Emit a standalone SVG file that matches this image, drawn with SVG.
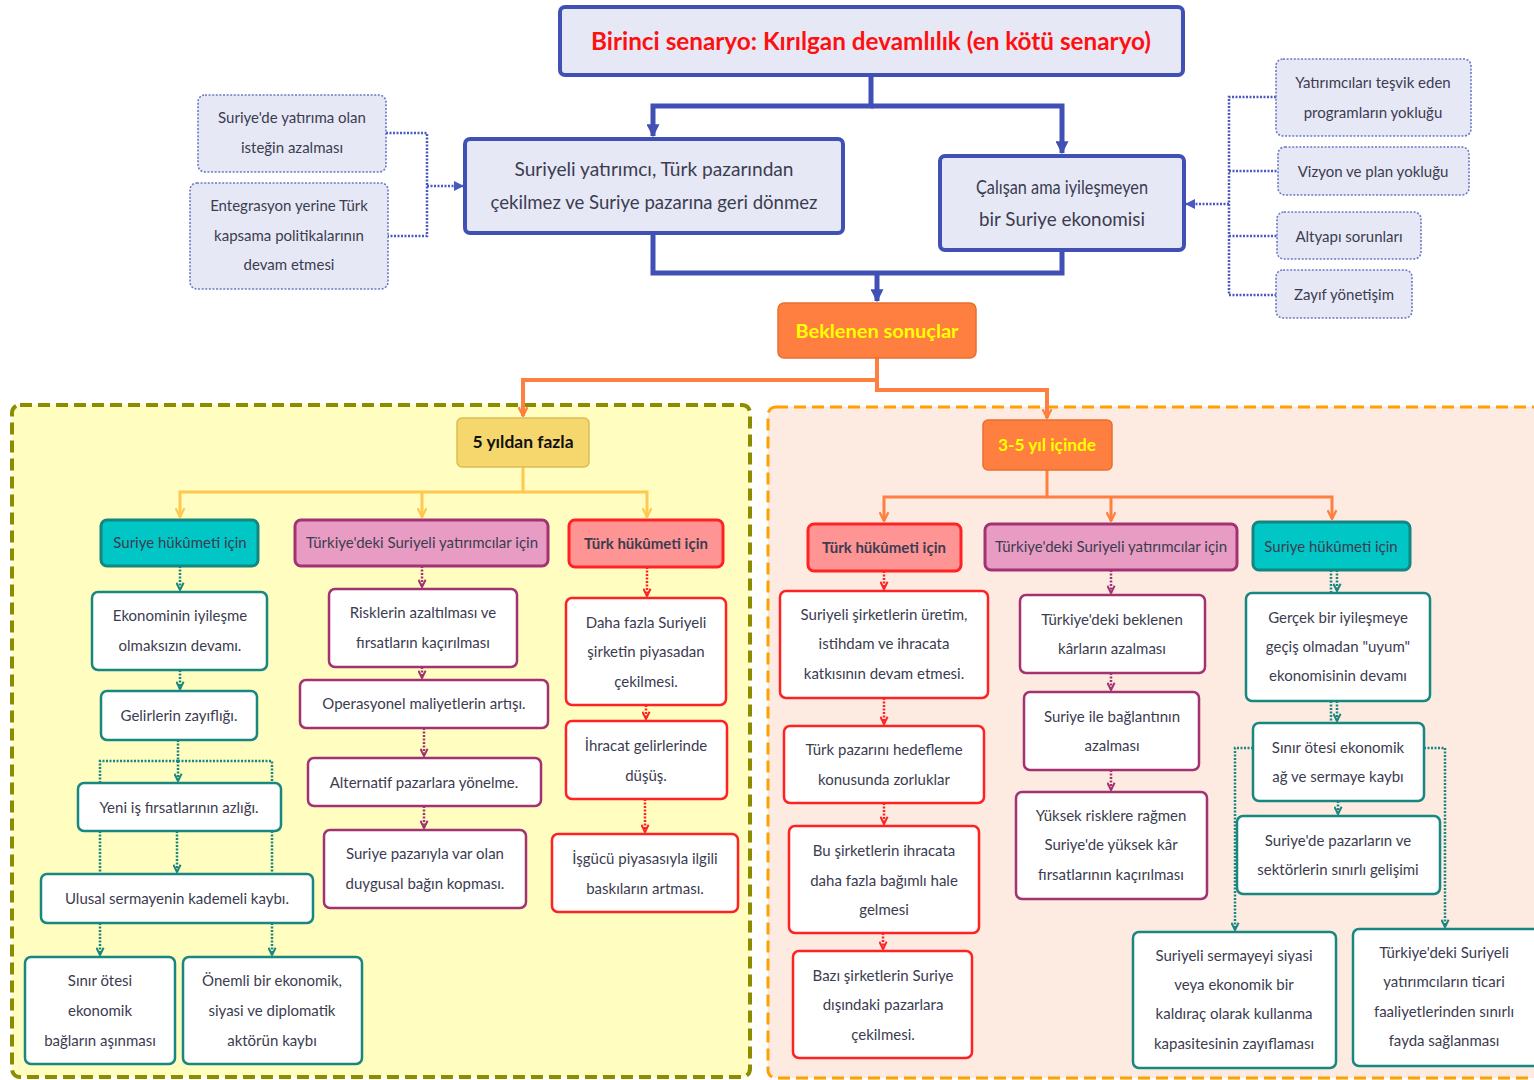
<svg xmlns="http://www.w3.org/2000/svg" width="1534" height="1080" viewBox="0 0 1534 1080">
<style>
text{font-family:Lato,"Open Sans","DejaVu Sans",sans-serif;fill:#3c3c50;font-size:15px;text-anchor:middle;dominant-baseline:central}
.blue{fill:#e6e8f6;stroke:#4150b5;stroke-width:4}
.sm{fill:#e6e8f6;stroke:#6c78c8;stroke-width:1.6;stroke-dasharray:2 1.6}
.or{fill:#ff7f40;stroke:#e8702e;stroke-width:1.5}
.teal{fill:#fff;stroke:#17877f;stroke-width:2.5}
.mag{fill:#fff;stroke:#a23272;stroke-width:2.5}
.red{fill:#fff;stroke:#ff2222;stroke-width:2.5}
.hteal{fill:#00c6c6;stroke:#138680;stroke-width:3}
.hmag{fill:#e89cc3;stroke:#a23272;stroke-width:3}
.hred{fill:#ff9494;stroke:#ff2222;stroke-width:3}
.cb{fill:none;stroke:#4150b5;stroke-width:5}
.cbd{fill:none;stroke:#4a58c0;stroke-width:2.5;stroke-dasharray:2 1.5}
.co{fill:none;stroke:#ff7f40;stroke-width:4}
.cy{fill:none;stroke:#ffc850;stroke-width:3}
.ct{fill:none;stroke:#17877f;stroke-width:2.5;stroke-dasharray:2 1.5}
.cm{fill:none;stroke:#a23272;stroke-width:2.5;stroke-dasharray:2 1.5}
.cr{fill:none;stroke:#ff2222;stroke-width:2.5;stroke-dasharray:2 1.5}
.big{font-size:20px}
.b{font-weight:bold}
</style>
<defs>
<marker id="ab" viewBox="0 0 10 10" refX="9" refY="5" markerWidth="13" markerHeight="13" markerUnits="userSpaceOnUse" orient="auto"><path d="M0,0 L10,5 L0,10 z" fill="#4150b5"/></marker>
<marker id="abd" viewBox="0 0 10 10" refX="9" refY="5" markerWidth="10" markerHeight="10" markerUnits="userSpaceOnUse" orient="auto"><path d="M0,0 L10,5 L0,10 z" fill="#4a58c0"/></marker>
<marker id="ao" viewBox="0 0 10 10" refX="9" refY="5" markerWidth="11" markerHeight="11" markerUnits="userSpaceOnUse" orient="auto"><path d="M1,1 L9,5 L1,9" fill="none" stroke="#ff7f40" stroke-width="2"/></marker>
<marker id="ay" viewBox="0 0 10 10" refX="9" refY="5" markerWidth="11" markerHeight="11" markerUnits="userSpaceOnUse" orient="auto"><path d="M1,1 L9,5 L1,9" fill="none" stroke="#ffc850" stroke-width="2"/></marker>
<marker id="at" viewBox="0 0 10 10" refX="9" refY="5" markerWidth="9" markerHeight="9" markerUnits="userSpaceOnUse" orient="auto"><path d="M1,1 L9,5 L1,9" fill="none" stroke="#17877f" stroke-width="2.2"/></marker>
<marker id="am" viewBox="0 0 10 10" refX="9" refY="5" markerWidth="9" markerHeight="9" markerUnits="userSpaceOnUse" orient="auto"><path d="M1,1 L9,5 L1,9" fill="none" stroke="#a23272" stroke-width="2.2"/></marker>
<marker id="ar" viewBox="0 0 10 10" refX="9" refY="5" markerWidth="9" markerHeight="9" markerUnits="userSpaceOnUse" orient="auto"><path d="M1,1 L9,5 L1,9" fill="none" stroke="#ff2222" stroke-width="2.2"/></marker>
</defs>

<rect x="0" y="0" width="1534" height="1080" fill="#fff"/>

<g id="panel-5yil"><rect x="12" y="405" width="738" height="672" rx="8" fill="#fffdc0" stroke="#8c8c00" stroke-width="4" stroke-dasharray="12 6"/></g>
<g id="panel-35yil"><rect x="768" y="407" width="790" height="671" rx="8" fill="#fdeae0" stroke="#ffa000" stroke-width="3" stroke-dasharray="12 6"/></g>

<g id="connectors">
<path class="cb" d="M871,75 V106 H653 V136" marker-end="url(#ab)"/>
<path class="cb" d="M871,106 H1062 V153" marker-end="url(#ab)"/>
<path class="cb" d="M653,233 V273 H1062 V250"/>
<path class="cb" d="M877,273 V301" marker-end="url(#ab)"/>
<path class="cbd" d="M386,133 H427 V236 H388"/>
<path class="cbd" d="M427,186 H463" marker-end="url(#abd)"/>
<path class="cbd" d="M1276,97 H1229 V295 H1276 M1229,171 H1278 M1229,236 H1277"/>
<path class="cbd" d="M1229,204 H1186" marker-end="url(#abd)"/>
<path class="co" d="M877,358 V390 H1047 V418" marker-end="url(#ao)"/>
<path class="co" d="M877,380 H523 V416" marker-end="url(#ao)"/>
<path class="cy" d="M523,467 V492 H180 V517" marker-end="url(#ay)"/>
<path class="cy" d="M523,492 H647 V517" marker-end="url(#ay)"/>
<path class="cy" d="M422,492 V517" marker-end="url(#ay)"/>
<path class="co" style="stroke-width:3" d="M1047,470 V497 H884 V521" marker-end="url(#ao)"/>
<path class="co" style="stroke-width:3" d="M1047,497 H1332 V519" marker-end="url(#ao)"/>
<path class="co" style="stroke-width:3" d="M1111,497 V521" marker-end="url(#ao)"/>
<path class="ct" d="M180,566 V590" marker-end="url(#at)"/>
<path class="ct" d="M180,670 V689" marker-end="url(#at)"/>
<path class="ct" d="M178,740 V781" marker-end="url(#at)"/>
<path class="ct" d="M178,761 H100 V783 M178,761 H272 V783"/>
<path class="ct" d="M100,831 V874 M272,831 V874"/>
<path class="ct" d="M177,831 V872" marker-end="url(#at)"/>
<path class="ct" d="M100,923 V955" marker-end="url(#at)"/>
<path class="ct" d="M272,923 V955" marker-end="url(#at)"/>
<path class="cm" d="M422,566 V587" marker-end="url(#am)"/>
<path class="cm" d="M422,667 V678" marker-end="url(#am)"/>
<path class="cm" d="M424,728 V756" marker-end="url(#am)"/>
<path class="cm" d="M424,806 V828" marker-end="url(#am)"/>
<path class="cr" d="M647,567 V596" marker-end="url(#ar)"/>
<path class="cr" d="M646,705 V719" marker-end="url(#ar)"/>
<path class="cr" d="M645,799 V832" marker-end="url(#ar)"/>
<path class="cr" d="M884,571 V589" marker-end="url(#ar)"/>
<path class="cr" d="M884,698 V724" marker-end="url(#ar)"/>
<path class="cr" d="M884,803 V824" marker-end="url(#ar)"/>
<path class="cr" d="M883,933 V949" marker-end="url(#ar)"/>
<path class="cm" d="M1111,570 V593" marker-end="url(#am)"/>
<path class="cm" d="M1111,673 V690" marker-end="url(#am)"/>
<path class="cm" d="M1111,770 V790" marker-end="url(#am)"/>
<path class="ct" d="M1331,570 V593 M1331,701 V723"/>
<path class="ct" d="M1337,570 V591" marker-end="url(#at)"/>
<path class="ct" d="M1337,701 V721" marker-end="url(#at)"/>
<path class="ct" d="M1338,801 V814" marker-end="url(#at)"/>
<path class="ct" d="M1253,748 H1235 V930" marker-end="url(#at)"/>
<path class="ct" d="M1424,748 H1445 V927" marker-end="url(#at)"/>
</g>

<g id="n-title"><rect class="blue" x="560" y="7" width="623" height="68" rx="5"/><text x="871" y="40" class="b" style="fill:#ff1010;font-size:25px" textLength="560" lengthAdjust="spacingAndGlyphs">Birinci senaryo: Kırılgan devamlılık (en kötü senaryo)</text></g>
<g id="n-left"><rect class="blue" x="465" y="139" width="378" height="94" rx="5"/><text x="654" y="168" class="big" textLength="279" lengthAdjust="spacingAndGlyphs">Suriyeli yatırımcı, Türk pazarından</text><text x="654" y="201" class="big" textLength="327" lengthAdjust="spacingAndGlyphs">çekilmez ve Suriye pazarına geri dönmez</text></g>
<g id="n-right"><rect class="blue" x="940" y="156" width="244" height="94" rx="5"/><text x="1062" y="186" class="big" textLength="172" lengthAdjust="spacingAndGlyphs">Çalışan ama iyileşmeyen</text><text x="1062" y="218" class="big" textLength="166" lengthAdjust="spacingAndGlyphs">bir Suriye ekonomisi</text></g>
<g id="n-beklenen"><rect class="or" x="778" y="303" width="198" height="55" rx="6"/><text x="877" y="330" class="b" style="fill:#ffff00;font-size:19px" textLength="163" lengthAdjust="spacingAndGlyphs">Beklenen sonuçlar</text></g>

<g id="n-l1"><rect class="sm" x="198" y="95" width="188" height="77" rx="7"/><text x="292" y="117">Suriye'de yatırıma olan</text><text x="292" y="147">isteğin azalması</text></g>
<g id="n-l2"><rect class="sm" x="190" y="183" width="198" height="106" rx="7"/><text x="289" y="205">Entegrasyon yerine Türk</text><text x="289" y="235">kapsama politikalarının</text><text x="289" y="264">devam etmesi</text></g>
<g id="n-r1"><rect class="sm" x="1276" y="59" width="195" height="77" rx="7"/><text x="1373" y="82">Yatırımcıları teşvik eden</text><text x="1373" y="112">programların yokluğu</text></g>
<g id="n-r2"><rect class="sm" x="1278" y="147" width="191" height="48" rx="7"/><text x="1373" y="171">Vizyon ve plan yokluğu</text></g>
<g id="n-r3"><rect class="sm" x="1277" y="212" width="144" height="47" rx="7"/><text x="1349" y="236">Altyapı sorunları</text></g>
<g id="n-r4"><rect class="sm" x="1276" y="270" width="136" height="48" rx="7"/><text x="1344" y="294">Zayıf yönetişim</text></g>

<g id="n-5yil"><rect x="457" y="418" width="132" height="49" rx="5" fill="#f5d76e" stroke="#d9bd55" stroke-width="1.5"/><text x="523" y="441" class="b" style="fill:#111;font-size:17px" textLength="101" lengthAdjust="spacingAndGlyphs">5 yıldan fazla</text></g>
<g id="n-35yil"><rect class="or" x="983" y="420" width="129" height="50" rx="5"/><text x="1047" y="444" class="b" style="fill:#ffff00;font-size:17px" textLength="98" lengthAdjust="spacingAndGlyphs">3-5 yıl içinde</text></g>

<g id="h-a1"><rect class="hteal" x="101" y="520" width="157" height="46" rx="6"/><text x="180" y="542">Suriye hükûmeti için</text></g>
<g id="h-a2"><rect class="hmag" x="295" y="520" width="253" height="46" rx="6"/><text x="422" y="542">Türkiye'deki Suriyeli yatırımcılar için</text></g>
<g id="h-a3"><rect class="hred" x="569" y="520" width="154" height="47" rx="6"/><text x="646" y="543" class="b">Türk hükûmeti için</text></g>

<g id="a1-1"><rect class="teal" x="92" y="592" width="175" height="78" rx="6"/><text x="180" y="615">Ekonominin iyileşme</text><text x="180" y="645">olmaksızın devamı.</text></g>
<g id="a1-2"><rect class="teal" x="101" y="691" width="156" height="49" rx="6"/><text x="179" y="715">Gelirlerin zayıflığı.</text></g>
<g id="a1-3"><rect class="teal" x="78" y="783" width="203" height="48" rx="6"/><text x="179" y="807">Yeni iş fırsatlarının azlığı.</text></g>
<g id="a1-4"><rect class="teal" x="41" y="874" width="272" height="49" rx="6"/><text x="177" y="898">Ulusal sermayenin kademeli kaybı.</text></g>
<g id="a1-5"><rect class="teal" x="25" y="957" width="150" height="107" rx="6"/><text x="100" y="980">Sınır ötesi</text><text x="100" y="1010">ekonomik</text><text x="100" y="1040">bağların aşınması</text></g>
<g id="a1-6"><rect class="teal" x="183" y="957" width="179" height="107" rx="6"/><text x="272" y="980">Önemli bir ekonomik,</text><text x="272" y="1010">siyasi ve diplomatik</text><text x="272" y="1040">aktörün kaybı</text></g>

<g id="a2-1"><rect class="mag" x="329" y="589" width="188" height="78" rx="6"/><text x="423" y="612">Risklerin azaltılması ve</text><text x="423" y="642">fırsatların kaçırılması</text></g>
<g id="a2-2"><rect class="mag" x="300" y="680" width="248" height="48" rx="6"/><text x="424" y="703">Operasyonel maliyetlerin artışı.</text></g>
<g id="a2-3"><rect class="mag" x="308" y="758" width="233" height="48" rx="6"/><text x="424" y="782">Alternatif pazarlara yönelme.</text></g>
<g id="a2-4"><rect class="mag" x="324" y="830" width="202" height="78" rx="6"/><text x="425" y="853">Suriye pazarıyla var olan</text><text x="425" y="883">duygusal bağın kopması.</text></g>

<g id="a3-1"><rect class="red" x="566" y="598" width="160" height="107" rx="6"/><text x="646" y="622">Daha fazla Suriyeli</text><text x="646" y="651">şirketin piyasadan</text><text x="646" y="681">çekilmesi.</text></g>
<g id="a3-2"><rect class="red" x="566" y="721" width="161" height="78" rx="6"/><text x="646" y="745">İhracat gelirlerinde</text><text x="646" y="775">düşüş.</text></g>
<g id="a3-3"><rect class="red" x="552" y="834" width="186" height="78" rx="6"/><text x="645" y="858">İşgücü piyasasıyla ilgili</text><text x="645" y="888">baskıların artması.</text></g>

<g id="h-b1"><rect class="hred" x="808" y="524" width="153" height="47" rx="6"/><text x="884" y="547" class="b">Türk hükûmeti için</text></g>
<g id="h-b2"><rect class="hmag" x="985" y="524" width="252" height="46" rx="6"/><text x="1111" y="546">Türkiye'deki Suriyeli yatırımcılar için</text></g>
<g id="h-b3"><rect class="hteal" x="1253" y="522" width="157" height="48" rx="6"/><text x="1331" y="546">Suriye hükûmeti için</text></g>

<g id="b1-1"><rect class="red" x="780" y="591" width="208" height="107" rx="6"/><text x="884" y="614">Suriyeli şirketlerin üretim,</text><text x="884" y="643">istihdam ve ihracata</text><text x="884" y="673">katkısının devam etmesi.</text></g>
<g id="b1-2"><rect class="red" x="784" y="726" width="200" height="77" rx="6"/><text x="884" y="749">Türk pazarını hedefleme</text><text x="884" y="779">konusunda zorluklar</text></g>
<g id="b1-3"><rect class="red" x="789" y="826" width="190" height="107" rx="6"/><text x="884" y="850">Bu şirketlerin ihracata</text><text x="884" y="880">daha fazla bağımlı hale</text><text x="884" y="909">gelmesi</text></g>
<g id="b1-4"><rect class="red" x="793" y="951" width="179" height="107" rx="6"/><text x="883" y="975">Bazı şirketlerin Suriye</text><text x="883" y="1004">dışındaki pazarlara</text><text x="883" y="1034">çekilmesi.</text></g>

<g id="b2-1"><rect class="mag" x="1020" y="595" width="185" height="78" rx="6"/><text x="1112" y="619">Türkiye'deki beklenen</text><text x="1112" y="648">kârların azalması</text></g>
<g id="b2-2"><rect class="mag" x="1024" y="692" width="175" height="78" rx="6"/><text x="1112" y="716">Suriye ile bağlantının</text><text x="1112" y="745">azalması</text></g>
<g id="b2-3"><rect class="mag" x="1016" y="792" width="191" height="107" rx="6"/><text x="1111" y="815">Yüksek risklere rağmen</text><text x="1111" y="844">Suriye'de yüksek kâr</text><text x="1111" y="874">fırsatlarının kaçırılması</text></g>

<g id="b3-1"><rect class="teal" x="1246" y="593" width="184" height="108" rx="6"/><text x="1338" y="617">Gerçek bir iyileşmeye</text><text x="1338" y="646">geçiş olmadan "uyum"</text><text x="1338" y="675">ekonomisinin devamı</text></g>
<g id="b3-2"><rect class="teal" x="1253" y="723" width="171" height="78" rx="6"/><text x="1338" y="747">Sınır ötesi ekonomik</text><text x="1338" y="776">ağ ve sermaye kaybı</text></g>
<g id="b3-3"><rect class="teal" x="1237" y="816" width="203" height="78" rx="6"/><text x="1338" y="840">Suriye'de pazarların ve</text><text x="1338" y="869">sektörlerin sınırlı gelişimi</text></g>
<g id="b3-4"><rect class="teal" x="1133" y="932" width="203" height="136" rx="6"/><text x="1234" y="955">Suriyeli sermayeyi siyasi</text><text x="1234" y="984">veya ekonomik bir</text><text x="1234" y="1013">kaldıraç olarak kullanma</text><text x="1234" y="1043">kapasitesinin zayıflaması</text></g>
<g id="b3-5"><rect class="teal" x="1353" y="929" width="190" height="137" rx="6"/><text x="1444" y="952">Türkiye'deki Suriyeli</text><text x="1444" y="981">yatırımcıların ticari</text><text x="1444" y="1011">faaliyetlerinden sınırlı</text><text x="1444" y="1040">fayda sağlanması</text></g>
</svg>
